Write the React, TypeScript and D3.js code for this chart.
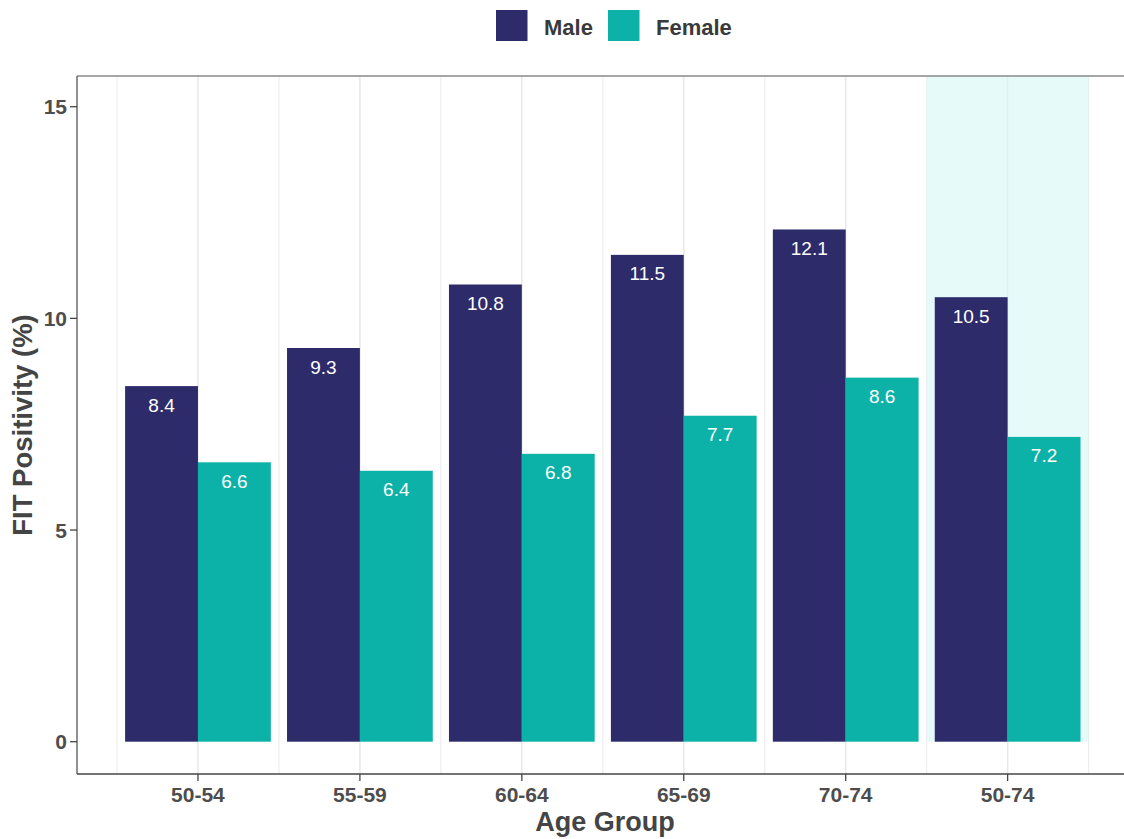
import React from "react";
import * as d3 from "d3";

const categories = ["50-54", "55-59", "60-64", "65-69", "70-74", "50-74 "];
const categoryLabels = ["50-54", "55-59", "60-64", "65-69", "70-74", "50-74"];
const sexes = ["Male", "Female"];
const maleValues = [8.4, 9.3, 10.8, 11.5, 12.1, 10.5];
const femaleValues = [6.6, 6.4, 6.8, 7.7, 8.6, 7.2];
const yTicks = [0, 5, 10, 15];
const highlightCategory = "50-74 ";

const colors: Record<string, string> = { Male: "#2E2B6B", Female: "#0CB2A7" };
const FONT = "'Liberation Sans', Arial, Helvetica, sans-serif";

export default function App() {
  const W = 1124;
  const H = 839;
  const panel = { left: 77, right: 1128, top: 76, bottom: 774 };

  const x = d3.scaleBand<string>().domain(categories).range([117, 1088.6]).padding(0);
  const bw = x.bandwidth();
  const sub = d3.scaleBand<string>().domain(sexes).range([0.05 * bw, 0.95 * bw]).padding(0);
  const y = d3.scaleLinear().domain([0, 15]).range([741.7, 106.7]);

  const data = categories.flatMap((c, i) => [
    { cat: c, sex: "Male", v: maleValues[i] },
    { cat: c, sex: "Female", v: femaleValues[i] },
  ]);

  const majorGrid = categories.map((c) => (x(c) as number) + bw / 2);
  const minorGrid = categories.map((c) => x(c) as number).concat([(x(categories[categories.length - 1]) as number) + bw]);

  const hx = x(highlightCategory) as number;

  return (
    <svg width={W} height={H} style={{ position: "absolute", left: 0, top: 0, background: "#fff" }} fontFamily={FONT}>
      {/* legend */}
      <g>
        <rect x={496} y={10} width={31.5} height={31} fill={colors.Male} />
        <text x={544} y={35} fontSize={22} fontWeight="bold" fill="#3a3a3a">Male</text>
        <rect x={608} y={10} width={31.5} height={31} fill={colors.Female} />
        <text x={656} y={35} fontSize={22} fontWeight="bold" fill="#3a3a3a">Female</text>
      </g>

      {/* gridlines */}
      {minorGrid.map((gx, i) => (
        <line key={"mi" + i} x1={gx} x2={gx} y1={panel.top} y2={panel.bottom} stroke="#eeeeee" strokeWidth={1.2} />
      ))}
      {majorGrid.map((gx, i) => (
        <line key={"ma" + i} x1={gx} x2={gx} y1={panel.top} y2={panel.bottom} stroke="#e8e8e8" strokeWidth={1.5} />
      ))}

      {/* highlight */}
      <rect x={hx} y={panel.top} width={bw} height={y(0) - panel.top} fill="#D9F7F7" opacity={0.65} />

      {/* bars */}
      {data.map((d, i) => {
        const bx = (x(d.cat) as number) + (sub(d.sex) as number);
        return (
          <rect key={"b" + i} x={bx} y={y(d.v)} width={sub.bandwidth()} height={y(0) - y(d.v)} fill={colors[d.sex]} />
        );
      })}
      {data.map((d, i) => {
        const bx = (x(d.cat) as number) + (sub(d.sex) as number) + sub.bandwidth() / 2;
        return (
          <text key={"l" + i} x={bx} y={y(d.v) + 25.5} fontSize={19} fill="#ffffff" textAnchor="middle">
            {d.v.toFixed(1)}
          </text>
        );
      })}

      {/* panel border */}
      <line x1={panel.left} x2={panel.right} y1={panel.top} y2={panel.top} stroke="#8a8a8a" strokeWidth={1.3} />
      <line x1={panel.left} x2={panel.left} y1={panel.top} y2={panel.bottom} stroke="#555" strokeWidth={1.3} />
      <line x1={panel.left} x2={panel.right} y1={panel.bottom} y2={panel.bottom} stroke="#444" strokeWidth={1.3} />

      {/* y axis */}
      {yTicks.map((t) => (
        <g key={"yt" + t}>
          <line x1={70} x2={panel.left} y1={y(t)} y2={y(t)} stroke="#444" strokeWidth={1.3} />
          <text x={67} y={y(t) + 7.5} fontSize={21} fontWeight="bold" fill="#4d4d4d" textAnchor="end">{t}</text>
        </g>
      ))}

      {/* x axis */}
      {categories.map((c, i) => {
        const cx = (x(c) as number) + bw / 2;
        return (
          <g key={"xt" + i}>
            <line x1={cx} x2={cx} y1={panel.bottom} y2={781} stroke="#444" strokeWidth={1.3} />
            <text x={cx} y={802} fontSize={21} fontWeight="bold" fill="#4d4d4d" textAnchor="middle">{categoryLabels[i]}</text>
          </g>
        );
      })}

      {/* titles */}
      <text x={605} y={831} fontSize={27} fontWeight="bold" fill="#444" textAnchor="middle">Age Group</text>
      <text transform={`translate(32, ${(panel.top + panel.bottom) / 2}) rotate(-90)`} fontSize={27.5} fontWeight="bold" fill="#444" textAnchor="middle">
        FIT Positivity (%)
      </text>
    </svg>
  );
}
